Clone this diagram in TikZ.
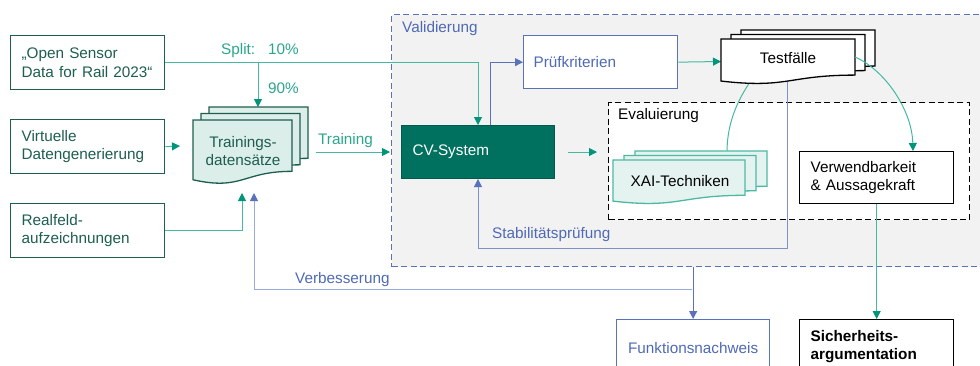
\documentclass[tikz,border=0pt]{standalone}
\usepackage{fontspec}
\setmainfont{Liberation Sans}
\usetikzlibrary{arrows.meta,calc}

\definecolor{dkgreen}{HTML}{1E5E50}
\definecolor{tealline}{HTML}{45B8A2}
\definecolor{tealdark}{HTML}{00957A}
\definecolor{tealtext}{HTML}{2AA68D}
\definecolor{blueT}{HTML}{4F6AB5}
\definecolor{blueB}{HTML}{5A72BA}
\definecolor{blueL}{HTML}{7D90CC}
\definecolor{blueXL}{HTML}{9AAAD8}
\definecolor{cvfill}{HTML}{00705F}
\definecolor{valfill}{HTML}{F2F2F2}
\definecolor{docfill}{HTML}{DCEEE9}
\definecolor{xaifill}{HTML}{E5F3F0}
\definecolor{xaiborder}{HTML}{4DB9A3}

% x y w h style
\newcommand\mydoc[5]{%
  \path[#5] (#1,#2) -- ({#1+#3},#2) -- ({#1+#3},{#2+0.802*#4})
    .. controls ({#1+0.5*#3},{#2+0.802*#4}) and ({#1+0.5*#3},{#2+1.107*#4}) .. (#1,{#2+0.934*#4}) -- cycle;}

\begin{document}
\begin{tikzpicture}[x=1pt,y=-1pt,
  font=\fontsize{15.3}{18.4}\selectfont,
  box/.style={draw=dkgreen, line width=1.3pt, fill=white, text=dkgreen,
    anchor=north west, minimum width=154pt, minimum height=54pt,
    text width=132pt, inner xsep=11pt, inner ysep=0pt, align=left},
  tarrow/.style={draw=tealline, line width=1pt, -{Triangle[length=8pt,width=8pt,color=tealdark]}},
  tline/.style={draw=tealline, line width=1pt},
  barrow/.style={line width=1pt, -{Triangle[length=8pt,width=8pt,color=blueB]}},
  lbl/.style={inner sep=0pt},
]
\useasboundingbox (0,0) rectangle (980,365);
\clip (0,0) rectangle (980,365);

% Validierung background
\node[draw=blueB, line width=1.3pt, dash pattern=on 6pt off 3.5pt, fill=valfill,
  anchor=north west, minimum width=600pt, minimum height=252pt, inner sep=0pt] (val) at (391,14) {};
\node[lbl, anchor=west, text=blueT] (valL) at (402,29) {Validierung};

% Evaluierung
\node[draw=black, line width=1.3pt, dash pattern=on 6pt off 3.5pt, fill=white,
  anchor=north west, minimum width=361pt, minimum height=117pt, inner sep=0pt] (eval) at (608,102) {};
\node[lbl, anchor=west, text=black] (evalL) at (618,116) {Evaluierung};

% left boxes
\node[box] (osd) at (10,35) {„Open Sensor\\Data for Rail 2023“};
\node[box] (virt) at (10,119) {Virtuelle\\Datengenerierung};
\node[box] (real) at (10,203) {Realfeld-\\aufzeichnungen};

% coordinates
\coordinate (split) at (258,62);
\coordinate (trainTop) at (258,107);
\coordinate (virtEnd) at (180,146);
\coordinate (realEnd) at (242,193);
\coordinate (verbEnd) at (254,193);
\coordinate (verbJ) at (692,289);
\coordinate (trainOut) at (316,152);
\coordinate (valIn) at (390,152);
\coordinate (cvOut) at (568,152);
\coordinate (evalIn) at (597,152);
\coordinate (testBot) at (787,76);
\coordinate (stabC) at (787,248);
\coordinate (testCurveA) at (750,82);
\coordinate (xaiTop) at (727,152);
\coordinate (testRight) at (855,57);
\coordinate (testIn) at (721,61.5);
\coordinate (verwIn) at (913,151);

% CV-System, Prüfkriterien
\node[draw=cvfill!80!black, line width=1pt, fill=cvfill, text=white, anchor=north west,
  minimum width=153pt, minimum height=53pt, text width=131pt, inner xsep=11pt, align=left] (cv) at (401,125) {CV-System};
\node[draw=blueB, line width=1.3pt, fill=white, text=blueT, anchor=north west,
  minimum width=154pt, minimum height=53pt, text width=134pt, inner xsep=10pt, align=left] (pruef) at (523,35) {Prüfkriterien};

% right boxes
\node[draw=black, line width=1.3pt, fill=white, text=black, anchor=north west,
  minimum width=154pt, minimum height=52pt, text width=132pt, inner xsep=11pt, inner ysep=0pt, align=left] (verw) at (799,151) {Verwendbarkeit\\\& Aussagekraft};
\node[draw=black, line width=1.3pt, fill=white, text=black, anchor=north west,
  minimum width=154pt, minimum height=54pt, text width=132pt, inner xsep=11pt, inner ysep=0pt, align=left, font=\fontsize{15.3}{18.4}\selectfont\bfseries] (sich) at (799,319) {Sicherheits-\\argumentation};
\node[draw=blueB, line width=1.3pt, fill=white, text=blueT, anchor=north west,
  minimum width=153pt, minimum height=56pt, inner sep=0pt, align=center] (funk) at (616,319) {Funktionsnachweis};

% connectors under the documents
\draw[tarrow] (osd.east) -- (cv.north |- osd.east) -- (cv.north);
\draw[tarrow] (split) -- (trainTop);
\draw[tarrow] (virt.east) -- (virtEnd);
\draw[tarrow] (real.east) -| (realEnd);
\draw[barrow, draw=blueXL] (verbJ) -| (verbEnd);
\draw[barrow, draw=blueB] (val.south -| funk.north) -- (funk.north);
\draw[tarrow] (trainOut) -- (valIn);
\draw[barrow, draw=blueB] ($(cv.north)+(12,0)$) |- (pruef.west);
\draw[tarrow] (pruef.east) -- (testIn);
\draw[tarrow] (cvOut) -- (evalIn);
\draw[barrow, draw=blueL] (testBot) -- (stabC) -| (cv.south);
\draw[tline] (testCurveA) .. controls (740,97) and (727,120) .. (xaiTop);

% documents
\foreach \dx/\dy in {16/-13, 8/-6.5, 0/0}{
  \mydoc{193+\dx}{120+\dy}{99}{64}{draw=dkgreen, line width=1.3pt, fill=docfill}
}
\foreach \dx/\dy in {20/-9, 10/-4.5, 0/0}{
  \mydoc{721+\dx}{39+\dy}{134}{45}{draw=black, line width=1.3pt, fill=white}
}
\foreach \dx/\dy in {22/-9, 11/-4.5, 0/0}{
  \mydoc{613+\dx}{160+\dy}{132}{44}{draw=xaiborder, line width=1.3pt, fill=xaifill}
}
\node[lbl, align=center, text=dkgreen] (train) at (243,151) {Trainings-\\datensätze};
\node[lbl, text=black] (test) at (788,58) {Testfälle};
\node[lbl, text=black] (xai) at (680,181) {XAI-Techniken};

\draw[tarrow] (testRight) .. controls (885,70) and (912,110) .. (verwIn);
\draw[tarrow] (verw.south) -- (sich.north);

% labels
\node[lbl, anchor=base west, text=tealtext] (splitL) at (221,54) {Split:};
\node[lbl, anchor=base west, text=tealtext] (p10) at (268,54) {10\%};
\node[lbl, anchor=base west, text=tealtext] (p90) at (268,93) {90\%};
\node[lbl, anchor=west, text=tealtext] (trainL) at (318,141) {Training};
\node[lbl, anchor=west, text=blueT] (verbL) at (295,280) {Verbesserung};
\node[lbl, anchor=west, text=blueT] (stabL) at (492,235) {Stabilitätsprüfung};
\end{tikzpicture}
\end{document}
